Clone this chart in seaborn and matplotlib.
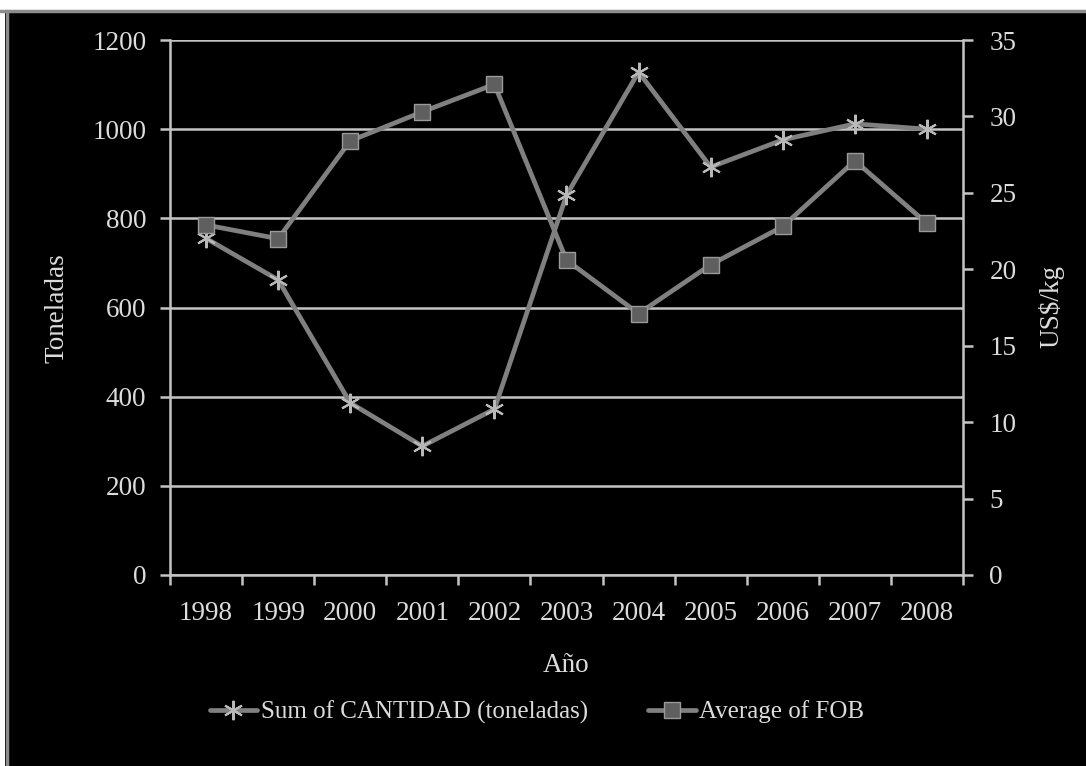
import matplotlib
matplotlib.use("Agg")
import matplotlib.pyplot as plt
import seaborn as sns
import pandas as pd
from matplotlib.patches import Rectangle
from matplotlib.lines import Line2D

years = ["1998", "1999", "2000", "2001", "2002", "2003", "2004", "2005", "2006", "2007", "2008"]
cantidad = [755, 662, 386, 289, 372, 852, 1128, 915, 976, 1012, 1000]
fob = [22.9, 22.0, 28.4, 30.3, 32.1, 20.6, 17.1, 20.3, 22.8, 27.1, 23.0]
left_ticks = [0, 200, 400, 600, 800, 1000, 1200]
right_ticks = [0, 5, 10, 15, 20, 25, 30, 35]

sns.set_theme(style="dark")
plt.rcParams["font.family"] = ["Liberation Serif", "DejaVu Serif"]

TXT = "#dcdcdc"
LINE = "#808080"
GRID = "#c4c4c4"
FS = 19.5
LFS = 18

df = pd.DataFrame({"x": range(len(years)), "year": years, "cantidad": cantidad, "fob": fob})

fig = plt.figure(figsize=(10.86, 7.66), dpi=100)
fig.patch.set_facecolor("black")
# top white strip and grey frame
fig.add_artist(Rectangle((0, 1 - 10 / 766), 1, 10 / 766, transform=fig.transFigure,
                         facecolor="white", edgecolor="none", zorder=0))
fig.add_artist(Line2D([0, 1], [1 - 11 / 766, 1 - 11 / 766], transform=fig.transFigure,
                      color="#8c8c8c", lw=2.5))
fig.add_artist(Rectangle((0, 0), 5 / 1086, 1 - 10 / 766, transform=fig.transFigure,
                         facecolor="white", edgecolor="none", zorder=0))
fig.add_artist(Line2D([6.5 / 1086, 6.5 / 1086], [0, 1 - 11 / 766], transform=fig.transFigure,
                      color="#8c8c8c", lw=2.5))

ax = fig.add_axes([170 / 1086, 1 - 575 / 766, (963 - 170) / 1086, (575 - 40) / 766])
ax.set_facecolor("black")
ax2 = ax.twinx()

sns.lineplot(data=df, x="x", y="cantidad", ax=ax, color=LINE, lw=3.4,
             marker=(6, 2, 0), markersize=14, markeredgewidth=1.5,
             markeredgecolor="#b8b8b8", zorder=5, label="Sum of CANTIDAD (toneladas)", legend=False)
sns.lineplot(data=df, x="x", y="fob", ax=ax2, color=LINE, lw=3.4,
             marker="s", markersize=11.5, markerfacecolor="#5f5f5f", markeredgewidth=1.0,
             markeredgecolor="#9a9a9a", zorder=5, label="Average of FOB", legend=False)

ax.set_xlim(-0.5, len(years) - 0.5)
ax.set_ylim(0, 1200)
ax2.set_ylim(0, 35)

ax.set_yticks(left_ticks)
ax.set_yticklabels([str(t) for t in left_ticks])
ax2.set_yticks(right_ticks)
ax2.set_yticklabels([str(t) for t in right_ticks])
ax.set_xticks(range(len(years)))
ax.set_xticklabels(years)
ax.set_xticks([i - 0.5 for i in range(len(years) + 1)], minor=True)

ax.grid(False)
ax2.grid(False)
ax.yaxis.grid(True, color=GRID, lw=1.8)
ax.set_axisbelow(True)

for a in (ax, ax2):
    for s in a.spines.values():
        s.set_visible(False)
ax.spines["left"].set_visible(True)
ax.spines["bottom"].set_visible(True)
ax2.spines["right"].set_visible(True)
for s in (ax.spines["left"], ax.spines["bottom"], ax2.spines["right"]):
    s.set_color(GRID)
    s.set_linewidth(1.8)

ax.tick_params(axis="x", which="major", length=0, pad=19, labelsize=FS, labelcolor=TXT)
ax.tick_params(axis="x", which="minor", bottom=True, length=7, width=1.8, color=GRID, direction="out")
ax.tick_params(axis="y", left=True, length=7, width=1.8, color=GRID, direction="out",
               labelsize=FS, labelcolor=TXT, pad=10)
ax2.tick_params(axis="y", right=True, length=7, width=1.8, color=GRID, direction="out",
                labelsize=FS, labelcolor=TXT, pad=12)

ax.set_xlabel("")
ax.set_ylabel("")
ax2.set_ylabel("")
ax.text(0.5, (575 - 665) / 535, "Año", transform=ax.transAxes, ha="center", va="center",
        color=TXT, fontsize=FS)
ax.text((57 - 170) / 793, (575 - 308) / 535, "Toneladas", transform=ax.transAxes, ha="center",
        va="center", rotation=90, color=TXT, fontsize=FS)
ax.text((1051 - 170) / 793, (575 - 307) / 535, "US$/kg", transform=ax.transAxes, ha="center",
        va="center", rotation=90, color=TXT, fontsize=FS)

h1, l1 = ax.get_legend_handles_labels()
h2, l2 = ax2.get_legend_handles_labels()
leg = fig.legend(h1 + h2, l1 + l2, loc="center", bbox_to_anchor=(537 / 1086, 1 - 712 / 766), ncol=2,
                 frameon=False, fontsize=LFS, labelcolor=TXT, columnspacing=2.4,
                 handlelength=1.9, handletextpad=0.15)

fig.savefig("out.png", dpi=100, facecolor=fig.get_facecolor())
